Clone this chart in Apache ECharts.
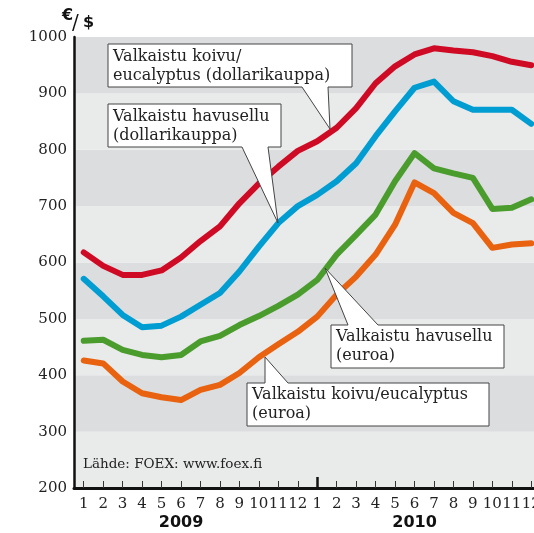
<!DOCTYPE html>
<html><head><meta charset="utf-8">
<script src="https://cdn.jsdelivr.net/npm/echarts@6/dist/echarts.min.js"></script>
<style>html,body{margin:0;padding:0;background:#fff}#c{width:534px;height:533px}</style>
</head><body><div id="c"></div>
<script>
var months = ['1','2','3','4','5','6','7','8','9','10','11','12','1','2','3','4','5','6','7','8','9','10','11','12'];
var yearLabels = ['','','','','','2009','','','','','','','','','','','','2010','','','','','',''];
var koivuDollar = [618,594,578,578,586,609,638,664,705,740,770,798,815,839,874,918,948,969,980,976,973,966,956,950];
var havuDollar  = [571,540,507,485,488,504,525,546,584,628,670,700,720,744,776,824,868,910,921,886,871,871,871,846];
var havuEuro    = [461,463,445,436,432,436,460,470,489,505,523,543,569,614,649,685,744,794,767,758,750,695,697,712];
var koivuEuro   = [426,421,389,368,361,356,374,383,404,432,455,477,504,543,575,614,667,742,723,688,670,626,632,634];
var yTicks = [200,300,400,500,600,700,800,900,1000];

var chart = echarts.init(document.getElementById('c'));
var serifFont = '"DejaVu Serif", serif';
var boldFont = '"DejaVu Sans", sans-serif';

function lineSeries(name, data, color) {
  return {
    name: name, type: 'line', data: data, symbol: 'none', smooth: false,
    xAxisIndex: 0, yAxisIndex: 0,
    lineStyle: {color: color, width: 6, cap: 'round', join: 'round'},
    itemStyle: {color: color}, z: 3
  };
}

function callout(points, lines, tx, ty) {
  return [
    {type: 'polygon', shape: {points: points}, style: {fill: '#fff', stroke: '#444', lineWidth: 1}, z: 100},
    {type: 'text', x: tx, y: ty, style: {text: lines.join('\n'), font: '16px ' + serifFont, fill: '#222', lineHeight: 19}, z: 101}
  ];
}

var graphics = [].concat(
  callout([[108,44],[352,44],[352,87],[328,87],[330,129],[302,87],[108,87]], ['Valkaistu koivu/', 'eucalyptus (dollarikauppa)'], 113, 47),
  callout([[108,104],[281,104],[281,147],[268,147],[278,223],[242,147],[108,147]], ['Valkaistu havusellu', '(dollarikauppa)'], 113, 107),
  callout([[331,325],[348,325],[325,268],[378,325],[504,325],[504,368],[331,368]], ['Valkaistu havusellu', '(euroa)'], 336, 327),
  callout([[247,383],[265,383],[265,357],[288,383],[489,383],[489,426],[247,426]], ['Valkaistu koivu/eucalyptus', '(euroa)'], 252, 385),
  [
    {type: 'text', x: 83, y: 457, style: {text: 'Lähde: FOEX: www.foex.fi', font: '13.5px ' + serifFont, fill: '#222'}, z: 50},
    {type: 'text', x: 62, y: 8, style: {text: '€', font: 'bold 16px ' + boldFont, fill: '#111'}, z: 50},
    {type: 'text', x: 72, y: 14, style: {text: '/', font: '20px ' + serifFont, fill: '#111'}, z: 50},
    {type: 'text', x: 83, y: 15, style: {text: '$', font: 'bold 16px ' + boldFont, fill: '#111'}, z: 50}
  ]
);

chart.setOption({
  animation: false,
  backgroundColor: '#fff',
  grid: {left: 74, top: 37, bottom: 45, width: 467, containLabel: false, outerBoundsMode: 'none'},
  xAxis: [
    {
      type: 'category', data: months, boundaryGap: true, position: 'bottom',
      axisLine: {show: true, lineStyle: {color: '#111', width: 3}},
      axisTick: {show: true, inside: true, alignWithLabel: true, length: 7, lineStyle: {color: '#333', width: 1}},
      axisLabel: {interval: 0, margin: 9, fontSize: 15, fontFamily: serifFont, color: '#222'},
      splitLine: {show: false}
    },
    {
      type: 'category', data: yearLabels, boundaryGap: true, position: 'bottom', offset: 0,
      axisLine: {show: false},
      axisTick: {show: true, inside: true, alignWithLabel: true, length: 11,
        interval: function (i) { return i === 12; },
        lineStyle: {color: '#111', width: 2.5}},
      axisLabel: {interval: 0, margin: 27, fontSize: 16, fontWeight: 'bold', fontFamily: boldFont, color: '#111'},
      splitLine: {show: false}
    }
  ],
  yAxis: {
    type: 'value', min: yTicks[0], max: yTicks[yTicks.length - 1], interval: 100,
    axisLine: {show: true, lineStyle: {color: '#111', width: 2.5}},
    axisTick: {show: false},
    axisLabel: {margin: 7, fontSize: 15, fontFamily: serifFont, color: '#222', formatter: function (v) { return String(v); }},
    splitLine: {show: false},
    splitArea: {show: true, areaStyle: {color: ['#e9eaea', '#dcdddf']}}
  },
  series: [
    lineSeries('Valkaistu koivu/eucalyptus (dollarikauppa)', koivuDollar, '#cf0a24'),
    lineSeries('Valkaistu havusellu (dollarikauppa)', havuDollar, '#009dd2'),
    lineSeries('Valkaistu havusellu (euroa)', havuEuro, '#4a9c2d'),
    lineSeries('Valkaistu koivu/eucalyptus (euroa)', koivuEuro, '#e8620f')
  ],
  graphic: graphics
});
</script></body></html>
